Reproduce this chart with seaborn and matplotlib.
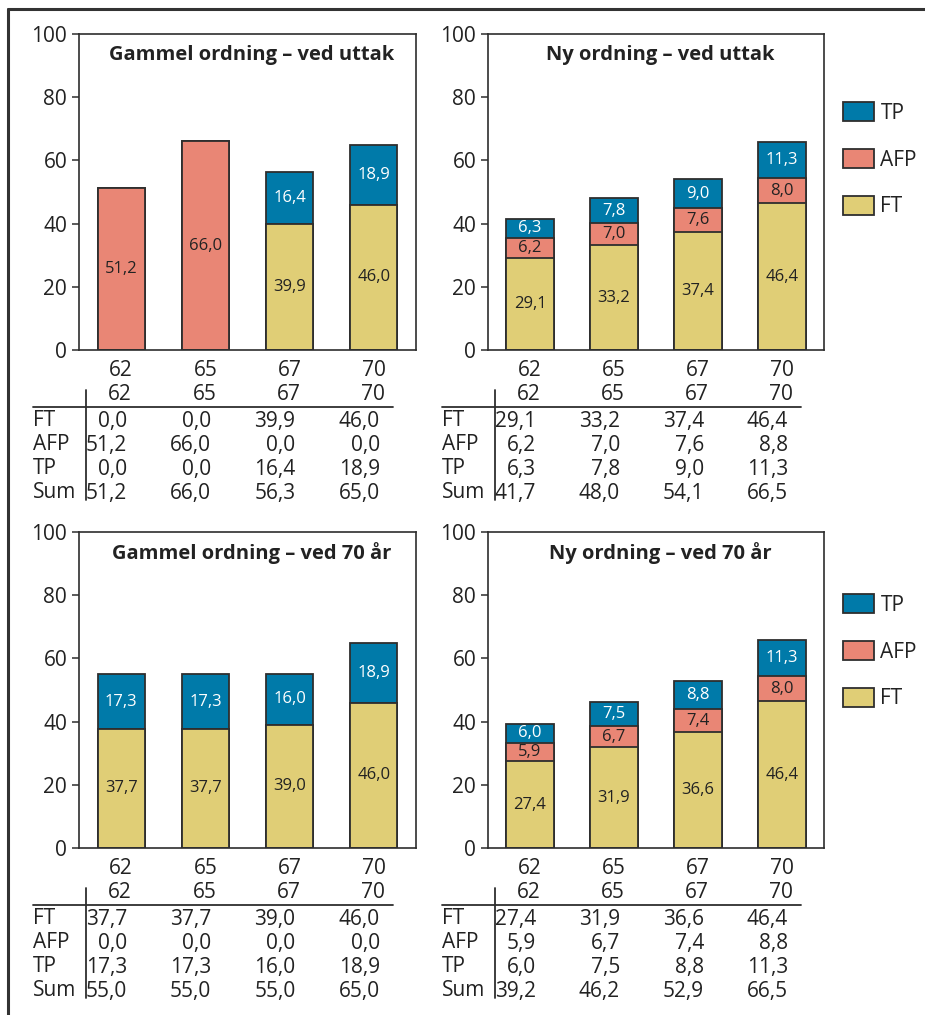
import matplotlib
matplotlib.use("Agg")
import matplotlib.pyplot as plt
from matplotlib.patches import Patch
from matplotlib.lines import Line2D
import seaborn as sns
import pandas as pd

sns.set_style("white")
plt.rcParams["font.family"] = ["Open Sans", "DejaVu Sans"]
plt.rcParams["text.color"] = "#222222"
plt.rcParams["xtick.color"] = "#222222"
plt.rcParams["ytick.color"] = "#222222"

# ---- data -------------------------------------------------------------
ages = ["62", "65", "67", "70"]
components = ["FT", "AFP", "TP"]

# Gammel ordning – ved uttak
gu_ft = [0.0, 0.0, 39.9, 46.0]
gu_afp = [51.2, 66.0, 0.0, 0.0]
gu_tp = [0.0, 0.0, 16.4, 18.9]
gu_sum = [51.2, 66.0, 56.3, 65.0]

# Ny ordning – ved uttak
nu_ft = [29.1, 33.2, 37.4, 46.4]
nu_afp = [6.2, 7.0, 7.6, 8.8]
nu_tp = [6.3, 7.8, 9.0, 11.3]
nu_sum = [41.7, 48.0, 54.1, 66.5]
nu_afp_bar = [6.2, 7.0, 7.6, 8.0]

# Gammel ordning – ved 70 år
g70_ft = [37.7, 37.7, 39.0, 46.0]
g70_afp = [0.0, 0.0, 0.0, 0.0]
g70_tp = [17.3, 17.3, 16.0, 18.9]
g70_sum = [55.0, 55.0, 55.0, 65.0]

# Ny ordning – ved 70 år
n70_ft = [27.4, 31.9, 36.6, 46.4]
n70_afp = [5.9, 6.7, 7.4, 8.8]
n70_tp = [6.0, 7.5, 8.8, 11.3]
n70_sum = [39.2, 46.2, 52.9, 66.5]
n70_afp_bar = [5.9, 6.7, 7.4, 8.0]

titles = ["Gammel ordning – ved uttak", "Ny ordning – ved uttak",
          "Gammel ordning – ved 70 år", "Ny ordning – ved 70 år"]

# ---- style ------------------------------------------------------------
C_FT = "#e0ce76"
C_AFP = "#e98675"
C_TP = "#007aa9"
EDGE = "#2e2e2e"
TXT = "#222222"
FS = 15

W, H = 925, 1015
fig = plt.figure(figsize=(W / 100, H / 100), dpi=100)
fig.patch.set_facecolor("white")


def ax_rect(x0, x1, ytop, ybot):
    return [x0 / W, 1 - ybot / H, (x1 - x0) / W, (ybot - ytop) / H]


def fmt(v):
    return f"{v:.1f}".replace(".", ",")


def draw_panel(ax, title, ft, afp, tp, tab, legend_top=None):
    df = pd.DataFrame({"alder": ages, "FT": ft, "AFP": afp, "TP": tp})
    layers = [
        (df["FT"] + df["AFP"] + df["TP"], C_TP),
        (df["FT"] + df["AFP"], C_AFP),
        (df["FT"], C_FT),
    ]
    for heights, col in layers:
        sns.barplot(x=df["alder"], y=heights, color=col, saturation=1,
                    width=0.56, edgecolor=EDGE, linewidth=1.3,
                    errorbar=None, ax=ax)

    # segment values
    for i in range(len(ages)):
        bottom = 0.0
        for comp, col in zip(components, [TXT, TXT, "white"]):
            v = df.loc[i, comp]
            if v > 0:
                ax.text(i, bottom + v / 2, fmt(v), ha="center", va="center",
                        fontsize=12, color=col)
            bottom += v

    ax.set_xlim(-0.5, 3.5)
    ax.set_ylim(0, 100)
    ax.set_yticks(range(0, 101, 20))
    ax.set_xlabel("")
    ax.set_ylabel("")
    for s in ax.spines.values():
        s.set_visible(True)
        s.set_color(EDGE)
        s.set_linewidth(1.2)
    ax.tick_params(axis="y", left=True, length=5, width=1.1, color=EDGE,
                   pad=3.5, labelsize=FS)
    ax.tick_params(axis="x", bottom=False, length=0, pad=7, labelsize=FS)

    aw, ah = 337.0, 316.0
    ax.text(0.5 + 4 / aw, 1 - 21 / ah, title, transform=ax.transAxes,
            ha="center", va="center", fontsize=14.5, fontweight="bold")

    # value table below the axis
    xt = ax.get_xaxis_transform()
    for i, a in enumerate(ages):
        ax.text(i + 0.13, -45 / ah, a, transform=xt, ha="right",
                va="center", fontsize=FS)
    row_names = ["FT", "AFP", "TP", "Sum"]
    row_off = [71, 95, 119, 143]
    for name, off, vals in zip(row_names, row_off, tab):
        ax.text(-46 / aw, -off / ah, name, transform=ax.transAxes,
                ha="left", va="center", fontsize=FS)
        for i, v in enumerate(vals):
            ax.text(i + 0.07, -off / ah, fmt(v), transform=xt, ha="right",
                    va="center", fontsize=FS)
    ax.plot([-46 / aw, 1 - 23 / aw], [-57 / ah, -57 / ah],
            transform=ax.transAxes, clip_on=False, color=EDGE, lw=1.3)
    ax.plot([7 / aw, 7 / aw], [-40 / ah, -150 / ah],
            transform=ax.transAxes, clip_on=False, color=EDGE, lw=1.3)

    if legend_top is not None:
        handles = [Patch(facecolor=c, edgecolor=EDGE, linewidth=1.3)
                   for c in (C_TP, C_AFP, C_FT)]
        ax.legend(handles, ["TP", "AFP", "FT"], loc="upper left",
                  bbox_to_anchor=((843 - 488) / 336, 1 - legend_top / ah),
                  frameon=False, fontsize=FS, handlelength=1.5,
                  handleheight=1.05, handletextpad=0.3, labelspacing=1.2,
                  borderpad=0, borderaxespad=0)


ax1 = fig.add_axes(ax_rect(79, 416, 34, 350))
ax2 = fig.add_axes(ax_rect(488, 824, 34, 350))
ax3 = fig.add_axes(ax_rect(79, 416, 532, 848))
ax4 = fig.add_axes(ax_rect(488, 824, 532, 848))

draw_panel(ax1, titles[0], gu_ft, gu_afp, gu_tp,
           [gu_ft, gu_afp, gu_tp, gu_sum])
draw_panel(ax2, titles[1], nu_ft, nu_afp_bar, nu_tp,
           [nu_ft, nu_afp, nu_tp, nu_sum], legend_top=68)
draw_panel(ax3, titles[2], g70_ft, g70_afp, g70_tp,
           [g70_ft, g70_afp, g70_tp, g70_sum])
draw_panel(ax4, titles[3], n70_ft, n70_afp_bar, n70_tp,
           [n70_ft, n70_afp, n70_tp, n70_sum], legend_top=62)

# outer frame: top rule and left rule
fig.add_artist(Line2D([8 / W, 1.0], [1 - 9 / H, 1 - 9 / H],
                      transform=fig.transFigure, color="#333333", lw=2.2))
fig.add_artist(Line2D([8 / W, 8 / W], [1 - 9 / H, 0.0],
                      transform=fig.transFigure, color="#333333", lw=2.2))

fig.savefig("out.png", dpi=100, facecolor="white")
